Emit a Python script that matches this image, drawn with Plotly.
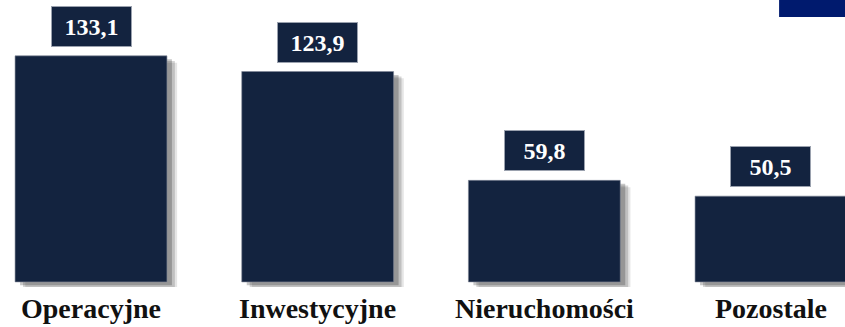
import plotly.graph_objects as go

# Dane
kategorie = ["Operacyjne", "Inwestycyjne", "Nieruchomości", "Pozostale"]
wartosci = [133.1, 123.9, 59.8, 50.5]
etykiety = ["133,1", "123,9", "59,8", "50,5"]

KOLOR_SLUPKA = "#13233f"
FONT_SERIF = "Liberation Serif"
SZER = 0.67

fig = go.Figure()

# cien (kilka warstw, imitacja rozmycia)
for dx, dy, kolor in [(0.045, 4.0, "rgba(0,0,0,0.10)"),
                      (0.035, 3.0, "rgba(0,0,0,0.16)"),
                      (0.022, 2.0, "rgba(0,0,0,0.22)")]:
    fig.add_trace(go.Bar(
        x=kategorie,
        y=wartosci,
        base=-dy,
        width=SZER,
        offset=-SZER / 2 + dx,
        marker=dict(color=kolor, line=dict(width=0)),
        hoverinfo="skip",
        showlegend=False,
    ))

# slupki
fig.add_trace(go.Bar(
    x=kategorie,
    y=wartosci,
    width=SZER,
    offset=-SZER / 2,
    marker=dict(color=KOLOR_SLUPKA, line=dict(color="#7f8797", width=0.6)),
    showlegend=False,
))

# etykiety wartosci w ramkach + nazwy kategorii
for kat, wart, tekst in zip(kategorie, wartosci, etykiety):
    fig.add_annotation(
        x=kat, y=wart, xref="x", yref="y",
        text=f"<b>{tekst}</b>",
        showarrow=False,
        yanchor="bottom", yshift=9,
        width=79, height=39,
        bgcolor=KOLOR_SLUPKA,
        bordercolor="#9aa1ae", borderwidth=1, borderpad=0,
        font=dict(family=FONT_SERIF, size=24, color="white"),
    )
    fig.add_annotation(
        x=kat, y=0, xref="x", yref="y",
        text=f"<b>{kat}</b>",
        showarrow=False,
        yanchor="top", yshift=-9,
        font=dict(family=FONT_SERIF, size=28, color="#111111"),
    )

# niebieski prostokat w prawym gornym rogu
fig.add_shape(
    type="rect", xref="paper", yref="paper",
    x0=0.922, x1=1.0, y0=0.941, y1=1.0,
    fillcolor="#001a6e", line=dict(width=0),
)

fig.update_layout(
    width=845, height=327,
    margin=dict(l=0, r=0, t=0, b=40),
    barmode="overlay",
    plot_bgcolor="white",
    paper_bgcolor="white",
    xaxis=dict(type="category", range=[-0.4015, 3.3265],
               showticklabels=False, showgrid=False, zeroline=False, showline=False),
    yaxis=dict(range=[-3, 166], showticklabels=False, showgrid=False,
               zeroline=False, showline=False),
)

# bez domyslnego marginesu strony (8 px) i bez paska narzedzi
fig.write_html("out.html", config={"displayModeBar": False},
               post_script="document.body.style.margin='0';")
